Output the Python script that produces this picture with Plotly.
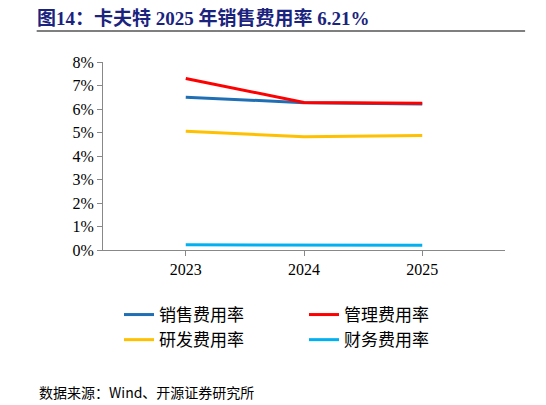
import plotly.graph_objects as go

years = ["2023", "2024", "2025"]
names = ["销售费用率", "管理费用率", "研发费用率", "财务费用率"]
sales = [6.5, 6.27, 6.21]
admin = [7.3, 6.28, 6.24]
rnd = [5.05, 4.82, 4.87]
fin = [0.22, 0.21, 0.20]
colors = ["#1f6fb5", "#ff0000", "#ffc000", "#00b0f0"]
tick_vals = [0, 1, 2, 3, 4, 5, 6, 7, 8]
tick_text = [f"{v}%" for v in tick_vals]

fig = go.Figure()
for n, s, c in zip(names, [sales, admin, rnd, fin], colors):
    fig.add_trace(go.Scatter(x=years, y=s, name=n, mode="lines",
                             line=dict(color=c, width=3)))

serif = "Liberation Serif, Noto Sans CJK SC"
fig.update_layout(
    width=546, height=405, plot_bgcolor="white", paper_bgcolor="white",
    margin=dict(l=95, r=49, t=54, b=163),
    font=dict(family=serif, size=16, color="black"),
    xaxis=dict(type="category", showline=True, linecolor="#888", ticks="outside",
               tickcolor="#888", ticklen=5, range=[-0.7, 2.7], showgrid=False),
    yaxis=dict(range=[0, 8], tickvals=tick_vals, ticktext=tick_text, showline=True,
               linecolor="#888", ticks="outside", tickcolor="#888", ticklen=5,
               showgrid=False, zeroline=False),
    legend=dict(orientation="h", x=0.5, xanchor="center", y=-0.25, yanchor="top",
                entrywidth=140, font=dict(size=17, family="Noto Sans CJK SC")),
    title=dict(text="<b>图14：卡夫特 2025 年销售费用率 6.21%</b>", x=0.053, xanchor="left",
               y=0.99, yanchor="top", font=dict(size=19, color="#1a237e", family=serif)),
    annotations=[dict(text="数据来源：Wind、开源证券研究所", xref="paper", yref="paper",
                      x=-0.165, y=-0.69, xanchor="left", yanchor="top", showarrow=False,
                      font=dict(size=14, family="Noto Sans CJK SC"))],
    shapes=[dict(type="line", xref="paper", yref="paper", x0=-0.165, x1=1.05,
                 y0=1.165, y1=1.165, line=dict(color="black", width=1.2))],
)
fig.write_html("out.html")
